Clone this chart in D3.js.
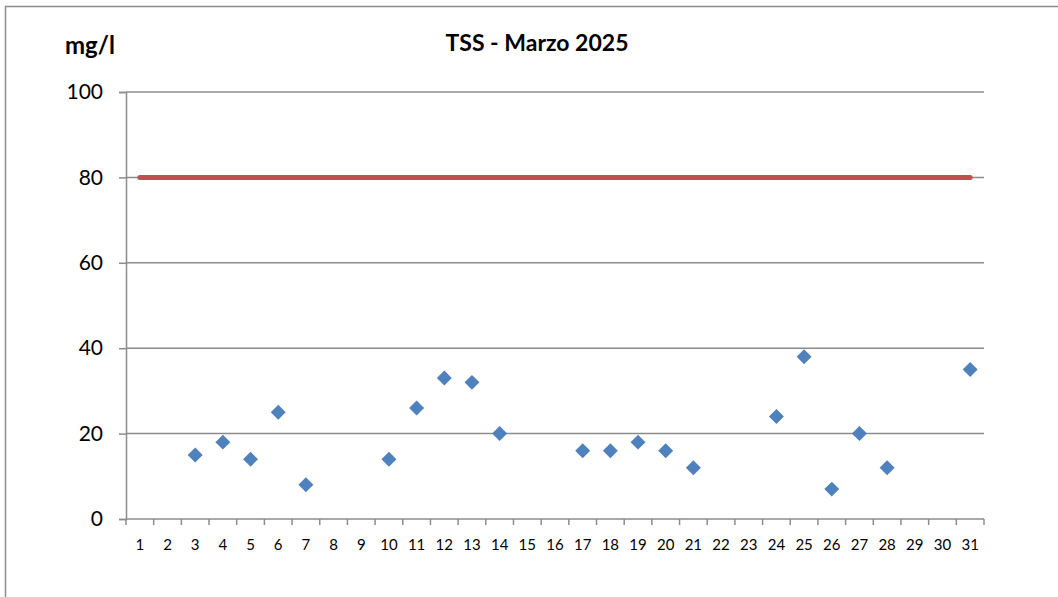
<!DOCTYPE html>
<html>
<head>
<meta charset="utf-8">
<script src="https://cdn.jsdelivr.net/npm/d3@7"></script>
<style>
  body { margin: 0; background: #fff; }
  text { font-family: Lato, "Open Sans", sans-serif; fill: #000; }
</style>
</head>
<body>
<script>
// data
var days = d3.range(1, 32).map(String);
var sampleDays = ["3","4","5","6","7","10","11","12","13","14","17","18","19","20","21","24","25","26","27","28","31"];
var tssValues = [15, 18, 14, 25, 8, 14, 26, 33, 32, 20, 16, 16, 18, 16, 12, 24, 38, 7, 20, 12, 35];
var limitValue = 80;
var yTicks = [0, 20, 40, 60, 80, 100];

var width = 1058, height = 597;
var plotLeft = 126, plotRight = 984, plotTop = 92, plotBottom = 519;

var svg = d3.select("body").append("svg")
    .attr("width", width)
    .attr("height", height);

// outer frame
svg.append("rect")
    .attr("x", 5.5).attr("y", 6.5)
    .attr("width", width).attr("height", height)
    .attr("fill", "none")
    .attr("stroke", "#8c8c8c")
    .attr("stroke-width", 1.5);

var x = d3.scaleBand().domain(days).range([plotLeft, plotRight]);
var y = d3.scaleLinear().domain([0, 100]).range([plotBottom, plotTop]);

// grid
svg.append("g").selectAll("line")
    .data(yTicks.slice(1))
    .enter().append("line")
    .attr("x1", plotLeft).attr("x2", plotRight)
    .attr("y1", function(d) { return y(d); })
    .attr("y2", function(d) { return y(d); })
    .attr("stroke", "#8c8c8c")
    .attr("stroke-width", 1.5);

// y axis
var yAxis = svg.append("g")
    .attr("transform", "translate(" + plotLeft + ",0)")
    .call(d3.axisLeft(y).tickValues(yTicks).tickSize(7).tickPadding(16));
yAxis.select(".domain").attr("stroke", "#8c8c8c").attr("stroke-width", 1.5);
yAxis.selectAll(".tick line").attr("stroke", "#8c8c8c").attr("stroke-width", 1.5);
yAxis.selectAll("text").style("font-size", "21px").attr("fill", "#000");

// x axis: ticks at band edges
var xAxis = svg.append("g")
    .attr("transform", "translate(0," + plotBottom + ")");
xAxis.append("line")
    .attr("x1", plotLeft).attr("x2", plotRight)
    .attr("stroke", "#8c8c8c").attr("stroke-width", 1.5);
xAxis.selectAll(".edge")
    .data(days.concat(["end"]))
    .enter().append("line")
    .attr("class", "edge")
    .attr("x1", function(d, i) { return plotLeft + i * x.step(); })
    .attr("x2", function(d, i) { return plotLeft + i * x.step(); })
    .attr("y1", 0).attr("y2", 6)
    .attr("stroke", "#8c8c8c").attr("stroke-width", 1.5);
xAxis.selectAll(".lbl")
    .data(days)
    .enter().append("text")
    .attr("class", "lbl")
    .attr("x", function(d) { return x(d) + x.bandwidth() / 2; })
    .attr("y", 31)
    .attr("text-anchor", "middle")
    .style("font-size", "15px")
    .text(function(d) { return d; });

// limit line
svg.append("line")
    .attr("x1", x(days[0]) + x.bandwidth() / 2)
    .attr("x2", x(days[days.length - 1]) + x.bandwidth() / 2)
    .attr("y1", y(limitValue)).attr("y2", y(limitValue))
    .attr("stroke", "#C0504D")
    .attr("stroke-width", 5)
    .attr("stroke-linecap", "round");

// points
var diamond = d3.symbol().type(d3.symbolSquare).size(112);
svg.append("g").selectAll("path")
    .data(sampleDays)
    .enter().append("path")
    .attr("d", diamond)
    .attr("fill", "#4F81BD")
    .attr("transform", function(d, i) {
        return "translate(" + (x(d) + x.bandwidth() / 2) + "," + y(tssValues[i]) + ") rotate(45)";
    });

// titles
svg.append("text")
    .attr("x", 537).attr("y", 51)
    .attr("text-anchor", "middle")
    .style("font-size", "23px")
    .style("font-weight", "bold")
    .text("TSS - Marzo 2025");

svg.append("text")
    .attr("x", 65).attr("y", 54)
    .style("font-size", "24px")
    .style("font-weight", "bold")
    .text("mg/l");
</script>
</body>
</html>
